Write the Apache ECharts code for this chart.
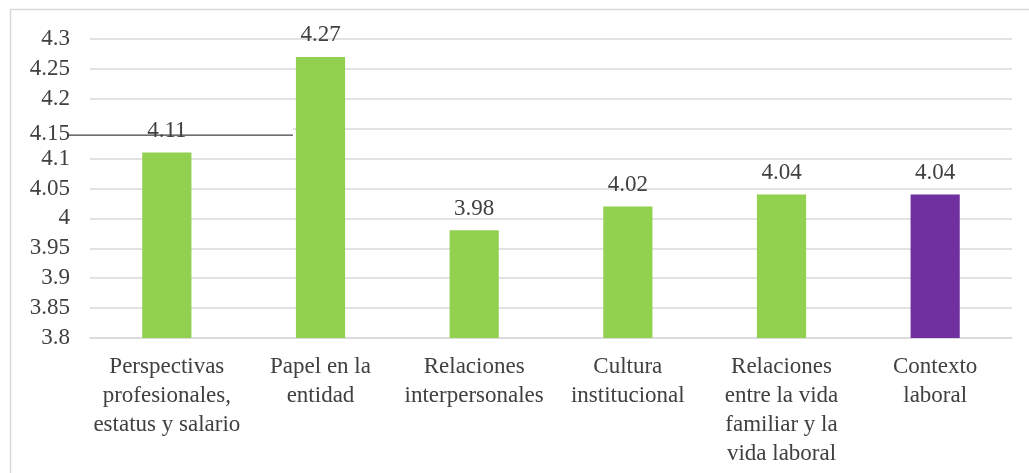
<!DOCTYPE html>
<html>
<head>
<meta charset="utf-8">
<script src="https://cdn.jsdelivr.net/npm/echarts@6/dist/echarts.min.js"></script>
<style>
  html, body { margin: 0; padding: 0; background: #fff; }
  #chart { width: 1029px; height: 473px; }
</style>
</head>
<body>
<div id="chart"></div>
<script>
// Dimension scores of the working-context questionnaire
const categories = [
  'Perspectivas\nprofesionales,\nestatus y salario',
  'Papel en la\nentidad',
  'Relaciones\ninterpersonales',
  'Cultura\ninstitucional',
  'Relaciones\nentre la vida\nfamiliar y la\nvida laboral',
  'Contexto\nlaboral'
];
const scores = [4.11, 4.27, 3.98, 4.02, 4.04, 4.04];
const barColors = ['#92D050', '#92D050', '#92D050', '#92D050', '#92D050', '#7030A0'];
const yMin = 3.8, yMax = 4.3, yStep = 0.05;

const FONT = '"Liberation Serif", "Times New Roman", serif';
const TEXT = '#404040';

const chart = echarts.init(document.getElementById('chart'), null, { renderer: 'canvas' });

chart.setOption({
  animation: false,
  backgroundColor: '#fff',
  grid: { left: 90, right: 17, top: 39, bottom: 135, containLabel: false },
  xAxis: {
    type: 'category',
    data: categories,
    axisLine: { show: true, lineStyle: { color: '#d9d9d9', width: 1.5 } },
    axisTick: { show: false },
    axisLabel: {
      interval: 0,
      margin: 14,
      color: TEXT,
      fontFamily: FONT,
      fontSize: 23,
      lineHeight: 29
    }
  },
  yAxis: {
    type: 'value',
    min: yMin,
    max: yMax,
    interval: yStep,
    axisLine: { show: false },
    axisTick: { show: false },
    splitLine: { lineStyle: { color: '#d9d9d9', width: 1.5 } },
    axisLabel: {
      margin: 20,
      color: TEXT,
      fontFamily: FONT,
      fontSize: 23,
      formatter: function (v) {
        const s = String(Math.round(v * 100) / 100);
        return Math.abs(v - 4.15) < 1e-6 ? '{low|' + s + '}' : s;
      },
      rich: {
        low: { color: TEXT, fontFamily: FONT, fontSize: 23, padding: [11, 0, 0, 0] }
      }
    }
  },
  series: [{
    type: 'bar',
    z: 3,
    barWidth: '32%',
    data: scores.map((v, i) => ({ value: v, itemStyle: { color: barColors[i] } })),
    label: {
      show: true,
      position: 'top',
      distance: 10,
      color: TEXT,
      fontFamily: FONT,
      fontSize: 23,
      formatter: p => p.value.toFixed(2)
    }
  }]
});

// Chart frame, and the rule drawn under the 4.15 tick across the first category
const yRef = chart.convertToPixel({ yAxisIndex: 0 }, 4.15);
const xCat1 = chart.convertToPixel({ xAxisIndex: 0 }, 1);
const bandHalf = (chart.convertToPixel({ xAxisIndex: 0 }, 1) - chart.convertToPixel({ xAxisIndex: 0 }, 0)) / 2;
const ruleEnd = xCat1 - bandHalf * 0.32 - 3;

chart.setOption({
  graphic: [
    {
      type: 'rect', silent: true, z: 0,
      shape: { x: 10.5, y: 9.5, width: 1100, height: 600 },
      style: { fill: null, stroke: '#d9d9d9', lineWidth: 1.5 }
    },
    {
      type: 'rect', silent: true, z: 1,
      shape: { x: 88, y: yRef - 2, width: ruleEnd - 88, height: 4 },
      style: { fill: '#fff' }
    },
    {
      type: 'line', silent: true, z: 1,
      shape: { x1: 67, y1: yRef + 6.5, x2: ruleEnd, y2: yRef + 6.5 },
      style: { stroke: '#404040', lineWidth: 1.2 }
    }
  ]
});
</script>
</body>
</html>
